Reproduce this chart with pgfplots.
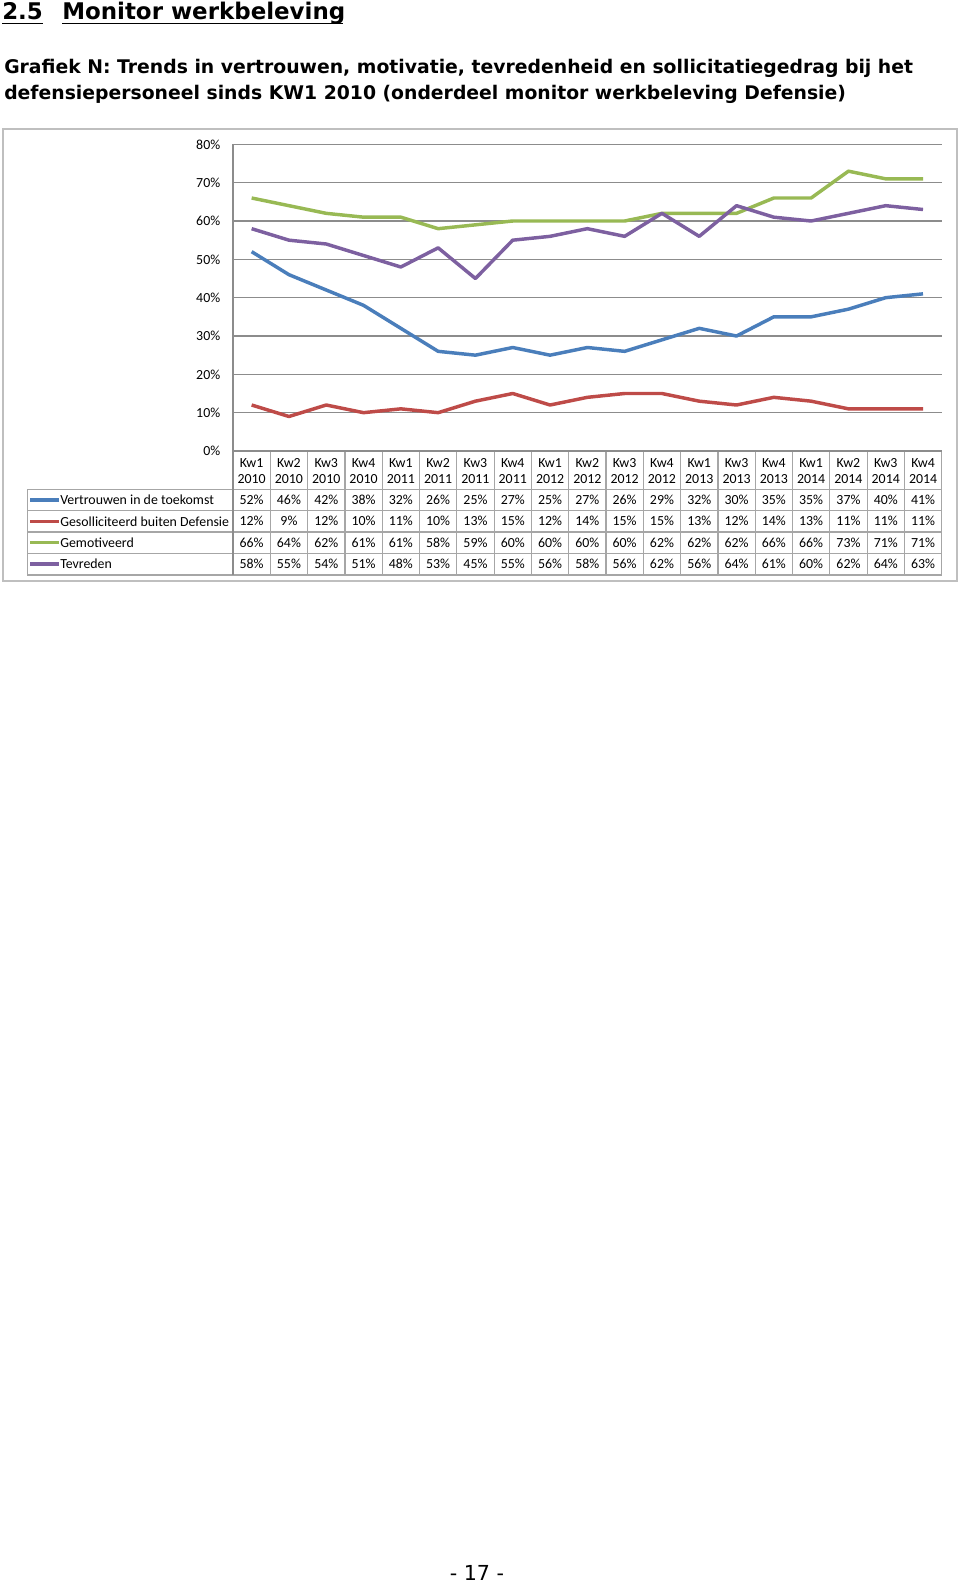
\documentclass[border=0pt]{standalone}
\usepackage{fontspec}
\setmainfont{Carlito}
\newfontfamily\verd{DejaVu Sans}
\usepackage{pgfplots}
\usepackage{pgfplotstable}
\pgfplotsset{compat=1.18}
\definecolor{cV}{HTML}{4A7EBB}
\definecolor{cG}{HTML}{BE4B48}
\definecolor{cM}{HTML}{98B954}
\definecolor{cT}{HTML}{7D60A0}
\definecolor{gridc}{HTML}{8C8C8C}
\definecolor{tabc}{HTML}{A6A6A6}
\definecolor{framec}{HTML}{BFBFBF}

\pgfplotstableread{
x v g m t
0 52 12 66 58
1 46 9 64 55
2 42 12 62 54
3 38 10 61 51
4 32 11 61 48
5 26 10 58 53
6 25 13 59 45
7 27 15 60 55
8 25 12 60 56
9 27 14 60 58
10 26 15 60 56
11 29 15 62 62
12 32 13 62 56
13 30 12 62 64
14 35 14 66 61
15 35 13 66 60
16 37 11 73 62
17 40 11 71 64
18 41 11 71 63
}\data

\begin{document}
\begin{tikzpicture}
\begin{scope}[x=0.75pt,y=-0.75pt]
\path[use as bounding box] (0,0) rectangle (960,1585);
% headings
\node[anchor=base west, inner sep=0pt, font=\verd\bfseries\fontsize{17.2}{20}\selectfont] at (2,19.5) {2.5};
\node[anchor=base west, inner sep=0pt, font=\verd\bfseries\fontsize{17.2}{20}\selectfont] at (62,19.5) {Monitor werkbeleving};
\draw[line width=1.4pt] (2,23.5) -- (43,23.5);
\draw[line width=1.4pt] (62,23.5) -- (343,23.5);
\node[anchor=west, inner sep=0pt, font=\verd\bfseries\fontsize{14.1}{16}\selectfont] at (4,68) {Grafiek N: Trends in vertrouwen, motivatie, tevredenheid en sollicitatiegedrag bij het};
\node[anchor=west, inner sep=0pt, font=\verd\bfseries\fontsize{14.1}{16}\selectfont] at (4,94) {defensiepersoneel sinds KW1 2010 (onderdeel monitor werkbeleving Defensie)};
% frame
\draw[framec, line width=1.1pt] (3,129) rectangle (957,581);
% table grid
\draw[tabc, line width=0.9pt] (233,451) -- (941.7,451);
\foreach \yy in {489.3,510.7,532,553.3,575} \draw[tabc, line width=0.9pt] (27.3,\yy) -- (941.7,\yy);
\draw[tabc, line width=0.9pt] (27.3,489.3) -- (27.3,575);
\foreach \k in {1,...,19} \draw[tabc, line width=0.9pt] ({233+37.3*\k},451) -- ({233+37.3*\k},575);
\draw[gridc, line width=0.9pt] (233,144.3) -- (233,575);
% header labels
\foreach \q/\yr [count=\i from 0] in {Kw1/2010,Kw2/2010,Kw3/2010,Kw4/2010,Kw1/2011,Kw2/2011,Kw3/2011,Kw4/2011,Kw1/2012,Kw2/2012,Kw3/2012,Kw4/2012,Kw1/2013,Kw3/2013,Kw4/2013,Kw1/2014,Kw2/2014,Kw3/2014,Kw4/2014}{
  \node[font=\fontsize{10.4}{12}\selectfont, inner sep=0pt] at ({233+37.3*(\i+0.5)},462.7) {\q};
  \node[font=\fontsize{10.4}{12}\selectfont, inner sep=0pt] at ({233+37.3*(\i+0.5)},479.3) {\yr};
}
% legend column and values
\foreach \col/\yy/\cc/\name in {v/500/cV/Vertrouwen in de toekomst, g/521.3/cG/Gesolliciteerd buiten Defensie, m/542.6/cM/Gemotiveerd, t/564/cT/Tevreden}{
  \draw[\cc, line width=2.5pt] (30,\yy) -- (59,\yy);
  \node[anchor=west, inner sep=0pt, font=\fontsize{10.4}{12}\selectfont] at (60,\yy) {\name};
  \foreach \i in {0,...,18}{
    \pgfplotstablegetelem{\i}{\col}\of\data
    \node[font=\fontsize{10.4}{12}\selectfont, inner sep=0pt] at ({233+37.3*(\i+0.5)},\yy) {\pgfplotsretval\%};
  }
}
% page number
\node[font=\verd\fontsize{15.5}{18}\selectfont, inner sep=0pt] at (477,1573) {- 17 -};
\end{scope}
\begin{axis}[
  scale only axis, width=531.5pt, height=230pt,
  at={(174.75pt,-338.25pt)}, anchor=south west,
  xmin=-0.5, xmax=18.5, ymin=0, ymax=80,
  axis line style={draw=none},
  xtick=\empty, ytick={0,10,...,80},
  yticklabel={\pgfmathprintnumber{\tick}\%},
  /pgf/number format/assume math mode=true,
  tick style={draw=none}, major tick length=0pt,
  yticklabel style={font=\fontsize{10.4}{12}\selectfont, inner sep=0pt, anchor=east, xshift=-9.4pt},
  ymajorgrids, grid style={gridc, line width=0.9pt},
]
\addplot[cV, line width=2.6pt, line join=round, no marks] table[x=x,y=v]{\data};
\addplot[cG, line width=2.6pt, line join=round, no marks] table[x=x,y=g]{\data};
\addplot[cM, line width=2.6pt, line join=round, no marks] table[x=x,y=m]{\data};
\addplot[cT, line width=2.6pt, line join=round, no marks] table[x=x,y=t]{\data};
\end{axis}
\end{tikzpicture}
\end{document}
